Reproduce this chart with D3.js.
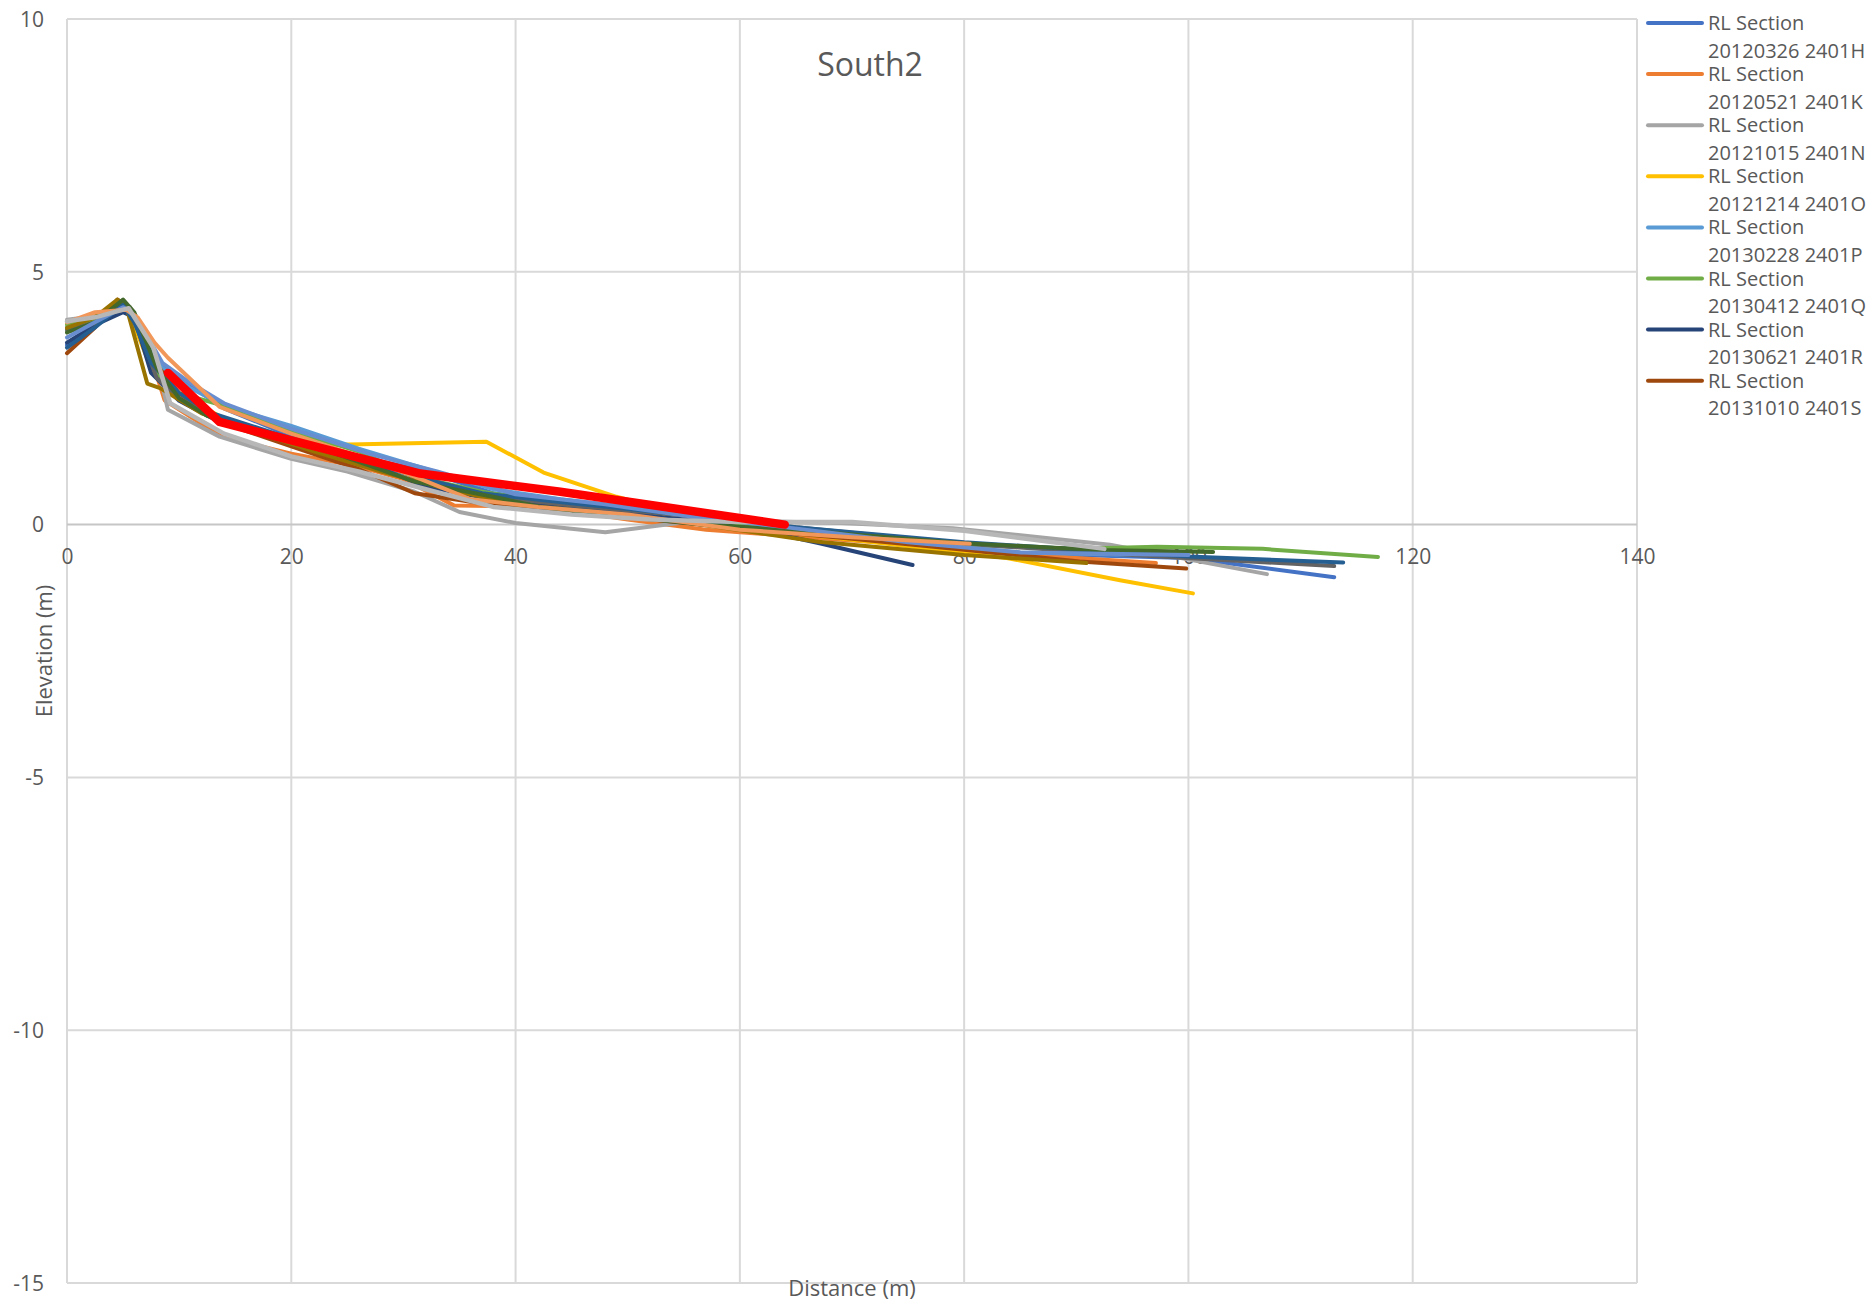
<!DOCTYPE html>
<html>
<head>
<meta charset="utf-8">
<title>South2</title>
<script src="https://cdn.jsdelivr.net/npm/d3@7"></script>
<style>
  html, body { margin: 0; padding: 0; background: #ffffff; }
  svg { display: block; font-family: "Open Sans", "Noto Sans", sans-serif; }
</style>
</head>
<body>
<svg id="chart" width="1876" height="1307"></svg>
<script>
// ---- axis ticks ----
const xTicks = [0, 20, 40, 60, 80, 100, 120, 140];
const yTicks = [-15, -10, -5, 0, 5, 10];

// ---- surveyed profiles: [distance (m), elevation (m)] ----
const p2401H = [[0,3.55],[2.5,3.95],[5.0,4.42],[6.0,4.1],[8,3.2],[11,2.75],[14,2.3],[20,1.75],[26,1.35],[32,1.05],[38,0.62],[44,0.45],[50,0.32],[57,0.12],[64,-0.05],[70,-0.2],[80,-0.54],[90,-0.6],[100,-0.66],[113,-1.04]];
const p2401K = [[0,4.0],[2.5,4.15],[4.6,4.3],[5.6,4.2],[7.5,3.3],[8.7,2.46],[13.8,1.74],[20,1.4],[26,1.15],[30,0.9],[34.5,0.38],[38,0.37],[44,0.3],[50,0.1],[57,-0.1],[69,-0.3],[80,-0.47],[90,-0.66],[97.1,-0.76]];
const p2401N = [[0,4.05],[2.5,4.12],[5.6,4.31],[7.85,3.39],[9,2.27],[13.6,1.74],[20,1.3],[25,1.05],[31,0.65],[35,0.25],[40,0.03],[48,-0.15],[56.7,0.09],[69,0.03],[79,-0.07],[93,-0.4],[107,-0.98]];
const p2401O = [[0,4.0],[2.5,4.1],[4.5,4.35],[5.5,4.2],[7.5,3.1],[9,2.7],[14,2.1],[20,1.65],[24,1.58],[37.4,1.64],[42.5,1.03],[49,0.55],[55,0.2],[62,-0.1],[72,-0.35],[83.8,-0.66],[93.9,-1.1],[100.4,-1.36]];
const p2401P = [[0,3.9],[2.5,4.05],[5.0,4.3],[6.2,4.0],[8.5,3.1],[11,2.7],[14,2.35],[20,1.95],[26,1.5],[32,1.1],[38,0.7],[44,0.5],[50,0.35],[58,0.1],[66,-0.15],[75,-0.35],[85,-0.55],[100,-0.62]];
const p2401Q = [[0,3.95],[2.5,4.05],[5,4.4],[6,4.1],[8,3.0],[10,2.6],[14,2.35],[20,1.85],[26,1.45],[31,0.95],[37,0.65],[44,0.4],[52,0.15],[60,-0.02],[70,-0.2],[80,-0.4],[90,-0.48],[97.2,-0.44],[106.6,-0.48],[116.9,-0.64]];
const p2401R = [[0,3.6],[2.5,3.95],[5,4.2],[6,4.1],[7.5,3.0],[10,2.45],[13,2.1],[20,1.6],[27,1.2],[32,0.75],[38,0.5],[45,0.35],[55,0.1],[62,-0.12],[67.1,-0.37],[75.4,-0.8]];
const p2401S = [[0,3.39],[2.5,3.9],[4.5,4.45],[5.5,4.3],[7.5,3.3],[10,2.6],[14,2.0],[20,1.55],[26,1.1],[31,0.62],[36,0.45],[42,0.3],[50,0.15],[60,-0.08],[70,-0.28],[80,-0.5],[90.3,-0.73],[99.8,-0.87]];
const p09 = [[0,3.85],[2.5,4.0],[5,4.35],[6,4.1],[8,2.9],[10,2.5],[14,2.05],[20,1.6],[27,1.25],[32,0.9],[38,0.55],[45,0.38],[55,0.18],[65,-0.05],[80,-0.38],[95,-0.6],[113,-0.82]];
const p10 = [[0,3.89],[2.5,4.1],[4.5,4.45],[5.3,4.3],[7.16,2.79],[8.3,2.7],[12,2.2],[16,1.9],[22,1.45],[28,1.05],[34,0.7],[40,0.4],[47,0.25],[55,0.05],[67,-0.34],[80,-0.6],[90.9,-0.76]];
const p11 = [[0,3.5],[2.5,3.9],[5,4.35],[6,4.0],[7.5,3.2],[10,2.6],[13,2.2],[20,1.7],[26,1.3],[31,0.95],[37,0.62],[45,0.42],[55,0.2],[65,-0.05],[80,-0.35],[100,-0.63],[113.8,-0.75]];
const p12 = [[0,3.8],[2.5,4.0],[5,4.45],[6,4.2],[8,3.1],[10,2.5],[12.5,2.15],[18,1.75],[24,1.4],[31,0.85],[38,0.55],[42.2,0.35],[50,0.15],[56.7,0.0],[67,-0.14],[80,-0.37],[92,-0.5],[102.2,-0.54]];
const p13 = [[0,3.7],[2.5,4.0],[5,4.3],[6.2,4.1],[8.5,3.2],[11,2.8],[14,2.4],[20,1.9],[27,1.4],[33,1.05],[40,0.6],[48,0.4],[56,0.15],[64,-0.05],[75,-0.35],[85,-0.55],[100,-0.6]];
const p14 = [[0,4.0],[2.5,4.2],[5.3,4.25],[6.3,4.1],[7.8,3.6],[9,3.3],[13.6,2.33],[20,1.8],[26,1.35],[31,0.95],[36,0.5],[42,0.35],[50,0.2],[60,-0.1],[70,-0.25],[80.5,-0.38]];
const p15 = [[0,4.02],[2.5,4.1],[5.5,4.28],[7.7,3.5],[9.2,2.4],[14,1.8],[20,1.35],[26,1.05],[32,0.7],[38,0.35],[45,0.2],[52,0.1],[60,0.05],[70,0.05],[80,-0.12],[92.5,-0.48]];
const pBold = [[9,3.0],[13.6,2.03],[20.8,1.62],[31.5,1.01],[44,0.65],[64,0.0]];

// legend labels for the first eight profiles
const legendNames = [
  "RL Section 20120326 2401H",
  "RL Section 20120521 2401K",
  "RL Section 20121015 2401N",
  "RL Section 20121214 2401O",
  "RL Section 20130228 2401P",
  "RL Section 20130412 2401Q",
  "RL Section 20130621 2401R",
  "RL Section 20131010 2401S"
];

// ---- styling ----
const series = [
  { pts: p2401H, color: "#4472C4", w: 4 },
  { pts: p2401K, color: "#ED7D31", w: 4 },
  { pts: p2401N, color: "#A5A5A5", w: 4 },
  { pts: p2401O, color: "#FFC000", w: 4 },
  { pts: p2401P, color: "#5B9BD5", w: 4 },
  { pts: p2401Q, color: "#70AD47", w: 4 },
  { pts: p2401R, color: "#264478", w: 4 },
  { pts: p2401S, color: "#9E480E", w: 4 },
  { pts: p09, color: "#636363", w: 4 },
  { pts: p10, color: "#997300", w: 4 },
  { pts: p11, color: "#255E91", w: 4 },
  { pts: p12, color: "#43682B", w: 4 },
  { pts: p13, color: "#698ED0", w: 4 },
  { pts: p14, color: "#F1975A", w: 4 },
  { pts: p15, color: "#B7B7B7", w: 4.5 },
  { pts: pBold, color: "#FF0000", w: 8.5 }
];

const svg = d3.select("#chart");
const plot = { left: 67, right: 1637, top: 19, bottom: 1283 };
const textColor = "#595959";

const x = d3.scaleLinear().domain([0, 140]).range([plot.left, plot.right]);
const y = d3.scaleLinear().domain([-15, 10]).range([plot.bottom, plot.top]);
const plain = d => String(d);

// gridlines
const grid = svg.append("g");
grid.selectAll("line.v").data(xTicks).join("line")
  .attr("x1", d => x(d)).attr("x2", d => x(d))
  .attr("y1", plot.top).attr("y2", plot.bottom)
  .attr("stroke", "#D9D9D9").attr("stroke-width", 2);
grid.selectAll("line.h").data(yTicks).join("line")
  .attr("x1", plot.left).attr("x2", plot.right)
  .attr("y1", d => y(d)).attr("y2", d => y(d))
  .attr("stroke", d => d === 0 ? "#C6C6C6" : "#D9D9D9")
  .attr("stroke-width", 2);

// y axis labels
const yAxis = d3.axisLeft(y).tickValues(yTicks).tickSize(0).tickPadding(0).tickFormat(plain);
const yg = svg.append("g").attr("transform", `translate(${plot.left - 23},0)`).call(yAxis);
yg.select(".domain").remove();
yg.selectAll("text").attr("fill", textColor).attr("font-size", 21)
  .attr("font-family", '"Open Sans", sans-serif').attr("dy", "0.35em");

// x axis labels sit just below the zero line
const xAxis = d3.axisBottom(x).tickValues(xTicks).tickSize(0).tickPadding(0).tickFormat(plain);
const xg = svg.append("g").attr("transform", `translate(0,${y(0) + 32})`).call(xAxis);
xg.select(".domain").remove();
xg.selectAll("text").attr("fill", textColor).attr("font-size", 21)
  .attr("font-family", '"Open Sans", sans-serif').attr("dy", "0.35em").attr("y", 0);

// profile lines
const line = d3.line().x(d => x(d[0])).y(d => y(d[1]));
svg.append("g").selectAll("path").data(series).join("path")
  .attr("d", d => line(d.pts))
  .attr("fill", "none")
  .attr("stroke", d => d.color)
  .attr("stroke-width", d => d.w)
  .attr("stroke-linejoin", "round")
  .attr("stroke-linecap", "round");

// title
svg.append("text").attr("x", 870).attr("y", 65).attr("dy", "0.35em")
  .attr("text-anchor", "middle").attr("font-size", 32).attr("fill", textColor)
  .text("South2");

// axis titles
svg.append("text").attr("x", (plot.left + plot.right) / 2).attr("y", 1288).attr("dy", "0.35em")
  .attr("text-anchor", "middle").attr("font-size", 22).attr("fill", textColor)
  .text("Distance (m)");
svg.append("text").attr("transform", `translate(44,${(plot.top + plot.bottom) / 2}) rotate(-90)`)
  .attr("dy", "0.35em").attr("text-anchor", "middle").attr("font-size", 22).attr("fill", textColor)
  .text("Elevation (m)");

// legend
const legend = svg.append("g");
const entries = legend.selectAll("g").data(legendNames).join("g")
  .attr("transform", (d, i) => `translate(1648,${23 + i * 51.1})`);
entries.append("line")
  .attr("x1", 0).attr("x2", 54).attr("y1", 0).attr("y2", 0)
  .attr("stroke", (d, i) => series[i].color).attr("stroke-width", 4)
  .attr("stroke-linecap", "round");
entries.append("text").attr("x", 60).attr("y", 0).attr("dy", "0.35em")
  .attr("font-size", 20).attr("fill", textColor)
  .text(d => d.split(" ").slice(0, 2).join(" "));
entries.append("text").attr("x", 60).attr("y", 27.5).attr("dy", "0.35em")
  .attr("font-size", 20).attr("fill", textColor)
  .text(d => d.split(" ").slice(2).join(" "));
</script>
</body>
</html>
